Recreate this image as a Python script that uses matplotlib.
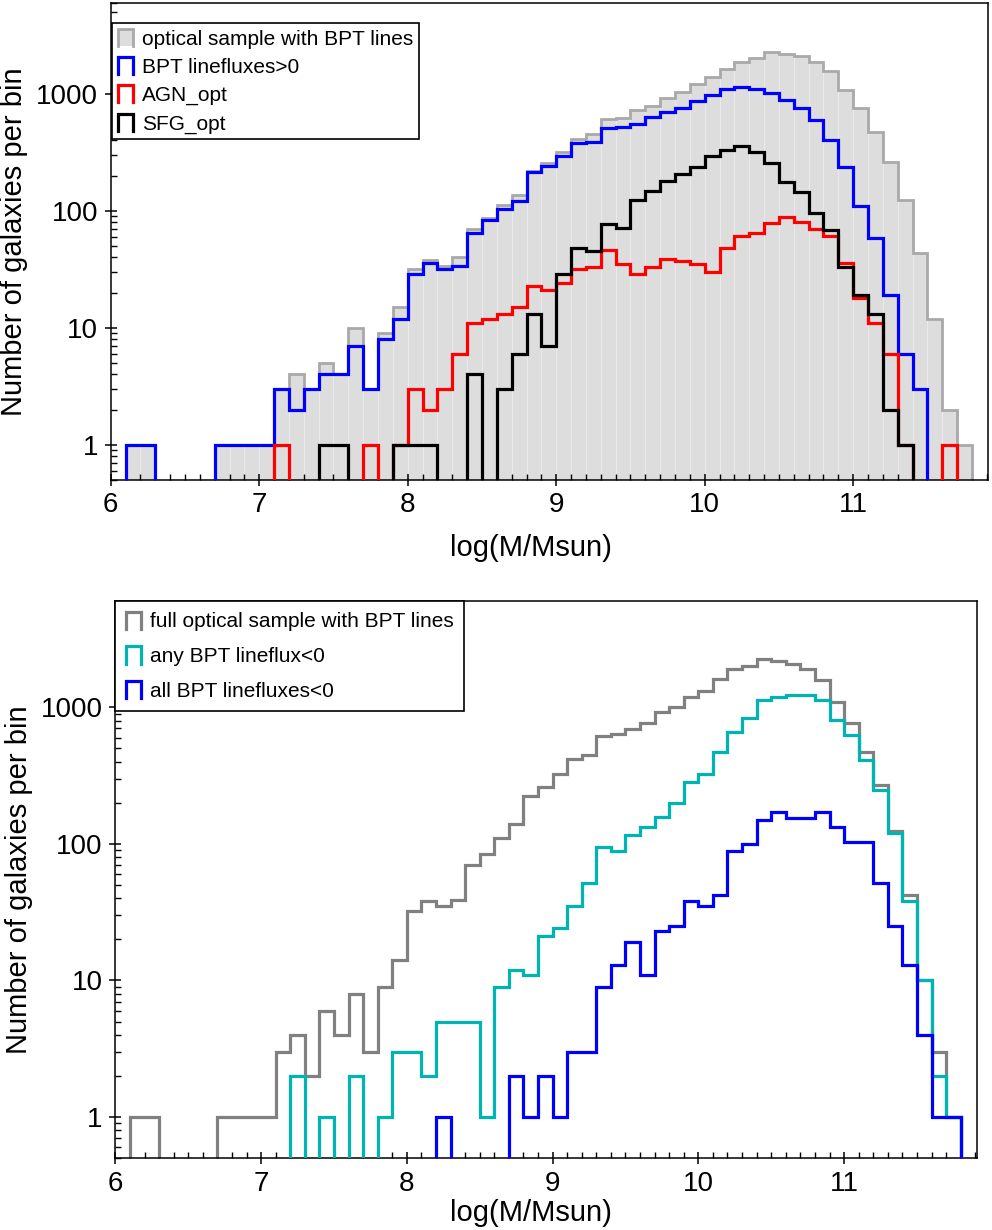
import numpy as np
import matplotlib
matplotlib.use("Agg")
import matplotlib.pyplot as plt
from matplotlib.legend_handler import HandlerBase
from matplotlib.lines import Line2D
from matplotlib.patches import Rectangle, Patch
from matplotlib.ticker import LogLocator, MultipleLocator, NullFormatter, FuncFormatter

plt.rcParams['font.family'] = ['Liberation Sans', 'DejaVu Sans']

# ---------------- data (bins of 0.1 dex from 6.1 to 11.8) ----------------
bin_edges = np.round(np.arange(6.1, 11.8001, 0.1), 2)

# top panel
optical_bpt = [1, 1, 0, 0, 0, 0, 1, 1, 1, 1,
               3, 4, 3, 5, 4, 10, 3, 9, 15, 32,
               38, 34, 40, 70, 87, 113, 137, 220, 256, 316,
               413, 453, 608, 620, 726, 791, 919, 1047, 1210, 1397,
               1647, 1889, 2045, 2287, 2184, 2113, 1889, 1573, 1076, 765,
               477, 264, 124, 44, 12, 2, 1]
bpt_pos = [1, 1, 0, 0, 0, 0, 1, 1, 1, 1,
           3, 2, 3, 4, 4, 7, 3, 8, 12, 29,
           36, 32, 34, 65, 84, 104, 122, 213, 243, 296,
           377, 392, 509, 523, 558, 637, 707, 755, 872, 975,
           1097, 1148, 1097, 1014, 884, 765, 596, 402, 238, 111,
           59, 19, 6, 3, 0, 0, 0]
agn_opt = [0, 0, 0, 0, 0, 0, 0, 0, 0, 0,
           1, 0, 0, 0, 0, 0, 1, 0, 1, 3,
           2, 3, 6, 11, 12, 13, 15, 23, 21, 24,
           32, 33, 46, 35, 29, 33, 39, 37, 35, 30,
           48, 61, 65, 78, 89, 80, 70, 61, 36, 18,
           11, 6, 1, 0, 0, 1, 0]
sfg_opt = [0, 0, 0, 0, 0, 0, 0, 0, 0, 0,
           0, 0, 0, 1, 1, 0, 0, 0, 1, 1,
           1, 0, 0, 4, 0, 3, 6, 13, 7, 29,
           48, 45, 77, 72, 124, 147, 181, 206, 237, 296,
           331, 360, 316, 259, 175, 144, 95, 68, 33, 19,
           13, 2, 1, 0, 0, 0, 0]

# bottom panel
full_optical = [1, 1, 0, 0, 0, 0, 1, 1, 1, 1,
                3, 4, 2, 6, 4, 8, 3, 9, 14, 32,
                38, 35, 39, 70, 84, 110, 139, 225, 262, 326,
                418, 450, 613, 636, 694, 766, 922, 1006, 1182, 1313,
                1610, 1905, 2024, 2248, 2190, 2089, 1905, 1581, 1091, 766,
                473, 271, 125, 42, 10, 3, 1]
any_neg = [0, 0, 0, 0, 0, 0, 0, 0, 0, 0,
           0, 2, 0, 1, 0, 2, 0, 1, 3, 3,
           2, 5, 5, 5, 1, 9, 12, 11, 21, 24,
           35, 52, 95, 88, 117, 133, 157, 199, 285, 326,
           467, 665, 836, 1138, 1182, 1234, 1234, 1125, 811, 625,
           413, 247, 120, 38, 10, 2, 1]
all_neg = [0, 0, 0, 0, 0, 0, 0, 0, 0, 0,
           0, 0, 0, 0, 0, 0, 0, 0, 0, 0,
           0, 1, 0, 0, 0, 0, 2, 1, 2, 1,
           3, 3, 9, 13, 19, 11, 23, 25, 38, 35,
           42, 89, 100, 150, 170, 155, 155, 170, 133, 104,
           104, 52, 25, 13, 4, 1, 1]

top_labels = ['optical sample with BPT lines', 'BPT linefluxes>0', 'AGN_opt', 'SFG_opt']
bottom_labels = ['full optical sample with BPT lines', 'any BPT lineflux<0', 'all BPT linefluxes<0']
xlabel = 'log(M/Msun)'
ylabel = 'Number of galaxies per bin'

# ---------------- styling ----------------
GREY_FILL = '#dddddd'
GREY_EDGE = '#a9a9a9'
GREY_LINE = '#808080'
CYAN = '#00b4b4'
BLUE = '#0000ff'
RED = '#ff0000'
LW = 2.3


class PiHandler(HandlerBase):
    def create_artists(self, legend, orig_handle, xdescent, ydescent,
                       width, height, fontsize, trans):
        x0, y0 = -xdescent, -ydescent
        arts = []
        if orig_handle.get_fill():
            arts.append(Rectangle((x0, y0), width, height,
                                  facecolor=orig_handle.get_facecolor(),
                                  edgecolor='none', transform=trans))
        arts.append(Line2D([x0, x0, x0 + width, x0 + width],
                           [y0, y0 + height, y0 + height, y0],
                           color=orig_handle.get_edgecolor(),
                           lw=orig_handle.get_linewidth(),
                           solid_joinstyle='miter', transform=trans))
        return arts


def style_axes(ax, xlabelpad, xlabel_x):
    ax.set_yscale('log', nonpositive='clip')
    ax.set_xlim(6.0, 11.91)
    ax.set_ylim(0.5, 6000)
    ax.xaxis.set_major_locator(MultipleLocator(1))
    ax.xaxis.set_minor_locator(MultipleLocator(0.1))
    ax.yaxis.set_major_locator(LogLocator(base=10, numticks=10))
    ax.yaxis.set_minor_locator(LogLocator(base=10, subs=np.arange(2, 10), numticks=20))
    ax.yaxis.set_minor_formatter(NullFormatter())
    ax.yaxis.set_major_formatter(FuncFormatter(lambda v, p: '%d' % v if v >= 1 else ''))
    ax.tick_params(which='major', direction='inout', length=8, width=1.1,
                   labelsize=20, pad=5, top=False, right=False)
    ax.tick_params(which='minor', direction='in', length=4, width=1.0,
                   top=False, right=False)
    for s in ax.spines.values():
        s.set_linewidth(1.1)
    ax.set_xlabel(xlabel, fontsize=21, labelpad=xlabelpad)
    ax.xaxis.label.set_x(xlabel_x)
    ax.set_ylabel(ylabel, fontsize=21, labelpad=6)


fig = plt.figure(figsize=(9.92, 12.3), dpi=100)

# ---------------- top panel ----------------
ax1 = fig.add_axes([0.1116, 0.6098, 0.8847, 0.3878])
ax1.bar(bin_edges[:-1], optical_bpt, width=0.1, align='edge',
        color=GREY_FILL, edgecolor='#ececec', linewidth=0.6, zorder=1)
ax1.stairs(optical_bpt, bin_edges, color=GREY_EDGE, lw=2.0, zorder=2)
ax1.stairs(bpt_pos, bin_edges, color=BLUE, lw=LW, zorder=3)
ax1.stairs(agn_opt, bin_edges, color=RED, lw=LW, zorder=4)
ax1.stairs(sfg_opt, bin_edges, color='black', lw=LW, zorder=5)
style_axes(ax1, 11, 0.479)

h_top = [Patch(facecolor=GREY_FILL, edgecolor=GREY_EDGE, linewidth=2.0),
         Patch(fill=False, edgecolor=BLUE, linewidth=LW),
         Patch(fill=False, edgecolor=RED, linewidth=LW),
         Patch(fill=False, edgecolor='black', linewidth=LW)]
leg1 = ax1.legend(h_top, top_labels, handler_map={Patch: PiHandler()},
                  loc='upper left', bbox_to_anchor=(0.0015, 0.958),
                  borderaxespad=0, fontsize=15, handlelength=0.72,
                  handleheight=0.9, handletextpad=0.45, labelspacing=0.40,
                  borderpad=0.28, fancybox=False, framealpha=1,
                  edgecolor='black')
leg1.get_frame().set_linewidth(1.2)

# ---------------- bottom panel ----------------
ax2 = fig.add_axes([0.1163, 0.0585, 0.8683, 0.4528])
ax2.stairs(full_optical, bin_edges, color=GREY_LINE, lw=LW, zorder=2)
ax2.stairs(any_neg, bin_edges, color=CYAN, lw=LW, zorder=3)
ax2.stairs(all_neg, bin_edges, color=BLUE, lw=LW, zorder=4)
style_axes(ax2, 1.5, 0.4825)

h_bot = [Patch(fill=False, edgecolor=GREY_LINE, linewidth=LW),
         Patch(fill=False, edgecolor=CYAN, linewidth=LW),
         Patch(fill=False, edgecolor=BLUE, linewidth=LW)]
leg2 = ax2.legend(h_bot, bottom_labels, handler_map={Patch: PiHandler()},
                  loc='upper left', bbox_to_anchor=(0.0, 1.0),
                  borderaxespad=0, fontsize=15, handlelength=0.72,
                  handleheight=0.9, handletextpad=0.45, labelspacing=0.72,
                  borderpad=0.5, fancybox=False, framealpha=1,
                  edgecolor='black')
leg2.get_frame().set_linewidth(1.2)

fig.savefig('out.png', dpi=100)
